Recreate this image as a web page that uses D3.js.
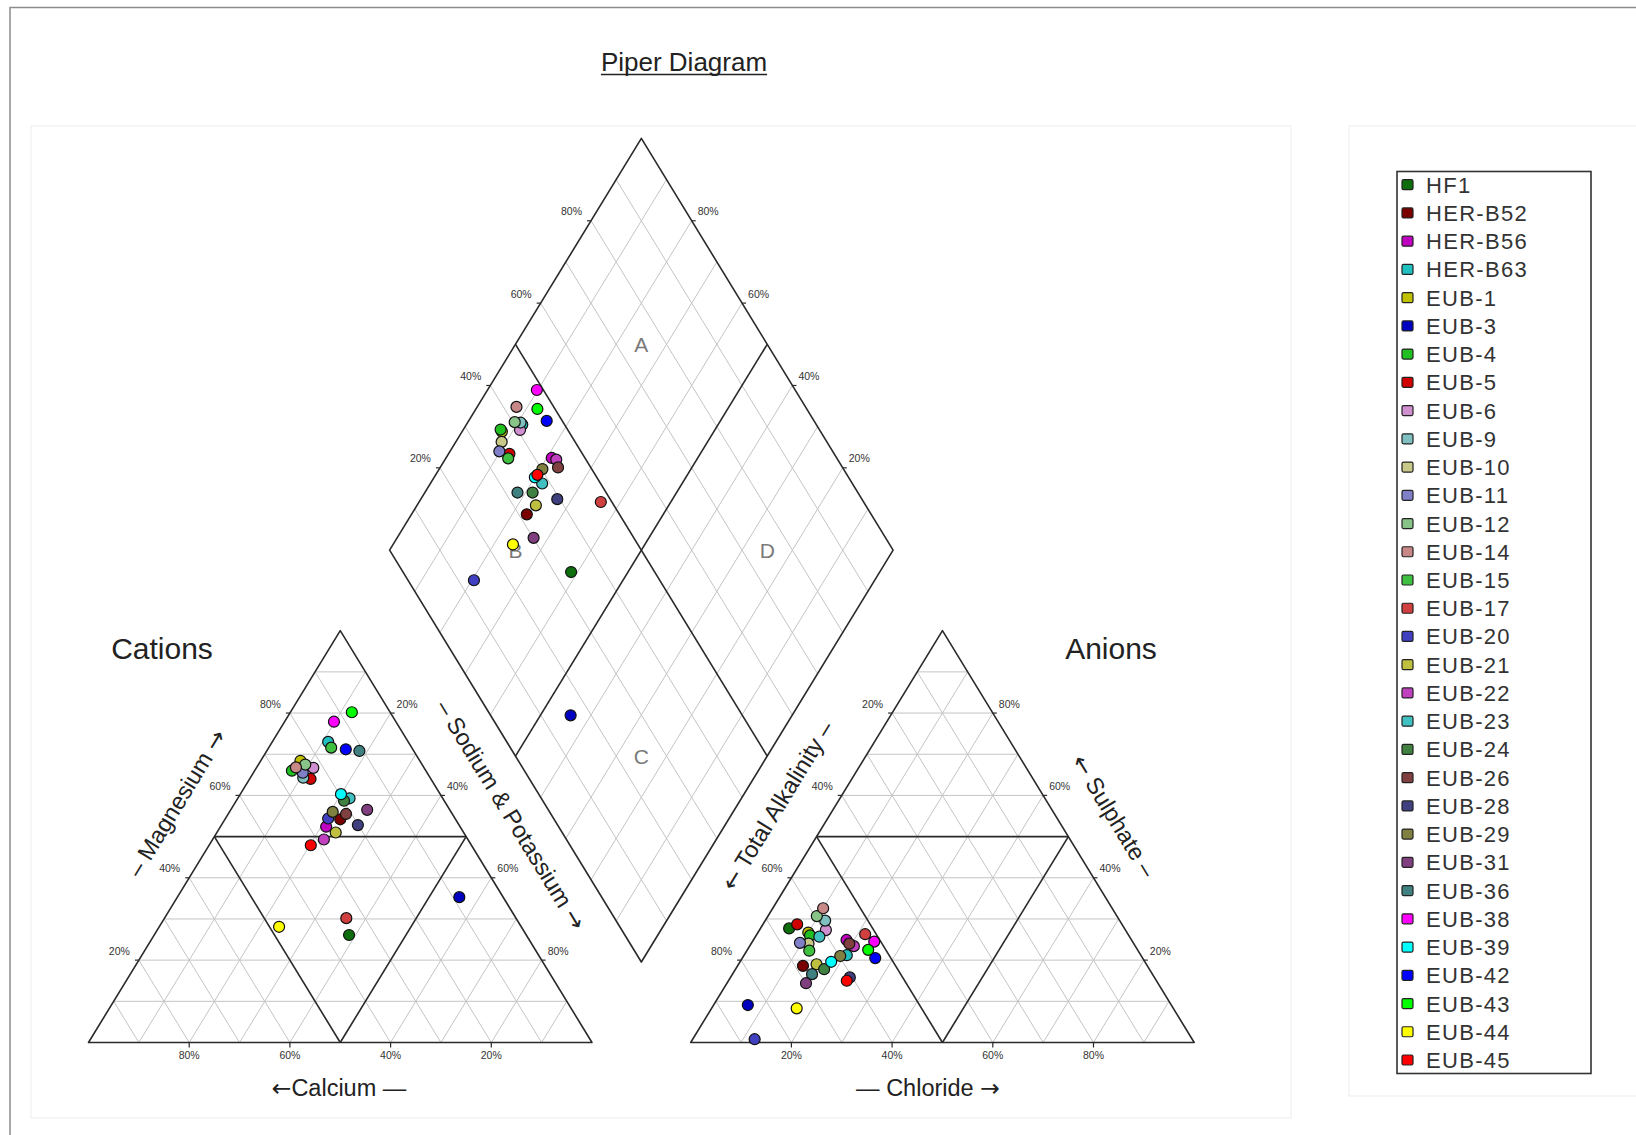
<!DOCTYPE html>
<html>
<head>
<meta charset="utf-8">
<script src="https://cdn.jsdelivr.net/npm/d3@7"></script>
<style>
  html, body { margin: 0; padding: 0; background: #fff; }
  svg { display: block; font-family: "Liberation Sans", Arial, Helvetica, sans-serif; }
</style>
</head>
<body>
<svg id="chart" width="1636" height="1135"></svg>
<script>
// ---- sample data (milliequivalent percentages) ----
const samples = ["HF1", "HER-B52", "HER-B56", "HER-B63", "EUB-1", "EUB-3", "EUB-4", "EUB-5",
  "EUB-6", "EUB-9", "EUB-10", "EUB-11", "EUB-12", "EUB-14", "EUB-15", "EUB-17",
  "EUB-20", "EUB-21", "EUB-22", "EUB-23", "EUB-24", "EUB-26", "EUB-28", "EUB-29",
  "EUB-31", "EUB-36", "EUB-38", "EUB-39", "EUB-42", "EUB-43", "EUB-44", "EUB-45"];

const sampleColors = ["#0e6e0e", "#7a0000", "#c000c0", "#20c0c0", "#c0c000", "#0000c0", "#20c020", "#d00000",
  "#d090d0", "#80c0c0", "#c8c888", "#8080c8", "#88c488", "#c88888", "#40c040", "#d04040",
  "#4040c0", "#c0c040", "#c040c0", "#40c0c0", "#408040", "#804040", "#404080", "#808040",
  "#804080", "#408080", "#ff00ff", "#00ffff", "#0000ff", "#00ff00", "#ffff00", "#ff0000"];

// cations
const calcium = [35.2, 22.9, 26.6, 15.9, 23.7, 8.7, 26.6, 23.9,
  22.0, 25.2, 24.3, 24.7, 23.2, 25.4, 16.0, 33.7,
  25.2, 25.4, 28.6, 18.5, 19.9, 21.1, 20.1, 23.5,
  16.4, 10.8, 12.3, 19.7, 13.3, 7.6, 48.1, 31.9];
const magnesium = [26.1, 54.2, 52.4, 73.0, 68.4, 35.3, 66.0, 64.0,
  66.7, 64.3, 66.6, 65.5, 67.5, 66.8, 71.6, 30.2,
  54.4, 51.0, 49.3, 59.3, 58.7, 55.5, 52.8, 56.0,
  56.5, 70.8, 77.9, 60.3, 71.2, 80.2, 28.1, 47.9];
const sodiumPotassium = [38.7, 22.9, 21.0, 11.1, 7.9, 56.0, 7.4, 12.1,
  11.3, 10.5, 9.1, 9.8, 9.3, 7.8, 12.4, 36.1,
  20.4, 23.6, 22.1, 22.2, 21.4, 23.4, 27.1, 20.5,
  27.1, 18.4, 9.8, 20.0, 15.5, 12.2, 23.8, 20.2];

// anions
const totalAlkalinity = [66.6, 68.4, 56.6, 58.4, 63.3, 84.1, 63.3, 64.5,
  59.5, 58.5, 64.6, 66.2, 59.6, 57.4, 65.3, 52.2,
  86.9, 65.5, 55.9, 61.6, 64.6, 56.5, 60.5, 59.8,
  69.9, 67.6, 51.3, 62.3, 53.1, 53.5, 74.8, 61.5];
const sulphate = [27.7, 18.6, 24.9, 21.2, 26.7, 9.1, 26.0, 28.7,
  27.3, 29.6, 24.0, 24.2, 30.7, 32.6, 22.3, 26.3,
  0.8, 19.0, 23.4, 25.7, 17.8, 24.0, 15.8, 21.0,
  14.4, 16.6, 24.5, 19.6, 20.5, 22.5, 8.3, 15.0];
const chloride = [5.7, 13.0, 18.5, 20.4, 10.0, 6.8, 10.7, 6.8,
  13.2, 11.9, 11.4, 9.6, 9.7, 10.0, 12.4, 21.5,
  12.3, 15.5, 20.7, 12.7, 17.6, 19.5, 23.7, 19.2,
  15.7, 15.8, 24.2, 18.1, 26.4, 24.0, 16.9, 23.5];

const tickPercents = [20, 40, 60, 80];
const regionLabels = ["A", "B", "C", "D"];

// ---- layout ----
const svg = d3.select("#chart");
const side = 503.5, triH = 411.8, baseY = 1042.5;
const catLeft = 88.5, aniLeft = 690.7;
const gap = aniLeft - (catLeft + side);
const dmdCx = catLeft + side + gap / 2;
const dmdBottom = 962;

const catX = d3.scaleLinear().domain([0, 1]).range([catLeft, catLeft + side]);
const aniX = d3.scaleLinear().domain([0, 1]).range([aniLeft, aniLeft + side]);
const triY = d3.scaleLinear().domain([0, 1]).range([baseY, baseY - triH]);
const dmdX = d3.scaleLinear().domain([-1, 1]).range([dmdCx - side / 2, dmdCx + side / 2]);
const dmdY = d3.scaleLinear().domain([0, 2]).range([dmdBottom, dmdBottom - 2 * triH]);

// fractions -> pixel positions
const catPt = (mg, na) => [catX(na + mg / 2), triY(mg)];
const aniPt = (so4, cl) => [aniX(cl + so4 / 2), triY(so4)];
const dmdPt = (na, s) => [dmdX(s - 1 + na), dmdY(s + 1 - na)];

const line = d3.line();

// page frame and faint panel outlines
svg.append("path").attr("d", "M10,1135V7.5H1636")
  .attr("fill", "none").attr("stroke", "#8c8c8c").attr("stroke-width", 1.5);
svg.append("rect").attr("x", 31).attr("y", 126).attr("width", 1260).attr("height", 992)
  .attr("fill", "none").attr("stroke", "#f0f0f0").attr("stroke-width", 1.2);
svg.append("rect").attr("x", 1349).attr("y", 126).attr("width", 300).attr("height", 970)
  .attr("fill", "none").attr("stroke", "#f0f0f0").attr("stroke-width", 1.2);

// title
const title = svg.append("text").attr("x", 684).attr("y", 70.5)
  .attr("text-anchor", "middle").attr("font-size", 26).attr("fill", "#222")
  .text("Piper Diagram");
const tb = title.node().getBBox();
svg.append("line").attr("x1", tb.x).attr("x2", tb.x + tb.width)
  .attr("y1", 74.5).attr("y2", 74.5).attr("stroke", "#222").attr("stroke-width", 1.6);

const grid = svg.append("g").attr("fill", "none").attr("stroke", "#c4c4c4").attr("stroke-width", 1);
const frame = svg.append("g").attr("fill", "none").attr("stroke", "#2a2a2a").attr("stroke-width", 1.6)
  .attr("stroke-linejoin", "round");

const steps = d3.range(1, 10).map(k => k / 10);

// ternary grids
function triangleGrid(pt) {
  steps.forEach(k => {
    grid.append("path").attr("d", line([pt(k, 0), pt(k, 1 - k)]));
    grid.append("path").attr("d", line([pt(0, k), pt(1 - k, k)]));
    grid.append("path").attr("d", line([pt(0, 1 - k), pt(1 - k, 0)]));
  });
  frame.append("path").attr("d", line([pt(0, 0), pt(0, 1), pt(1, 0)]) + "Z");
  frame.append("path").attr("d", line([pt(0.5, 0), pt(0.5, 0.5)]));
  frame.append("path").attr("d", line([pt(0, 0.5), pt(0.5, 0.5)]));
  frame.append("path").attr("d", line([pt(0, 0.5), pt(0.5, 0)]));
}
triangleGrid(catPt);
triangleGrid(aniPt);

// diamond grid
steps.forEach(k => {
  grid.append("path").attr("d", line([dmdPt(0, k), dmdPt(1, k)]));
  grid.append("path").attr("d", line([dmdPt(k, 0), dmdPt(k, 1)]));
});
frame.append("path").attr("d", line([dmdPt(0, 0), dmdPt(0, 1), dmdPt(1, 1), dmdPt(1, 0)]) + "Z");
frame.append("path").attr("d", line([dmdPt(0, 0.5), dmdPt(1, 0.5)]));
frame.append("path").attr("d", line([dmdPt(0.5, 0), dmdPt(0.5, 1)]));

// region letters
const regionPts = [dmdPt(0.25, 0.75), dmdPt(0.25, 0.25), dmdPt(0.75, 0.25), dmdPt(0.75, 0.75)];
svg.append("g").selectAll("text").data(regionLabels).join("text")
  .attr("x", (d, i) => regionPts[i][0]).attr("y", (d, i) => regionPts[i][1])
  .attr("dy", "0.36em").attr("text-anchor", "middle")
  .attr("font-size", 21).attr("fill", "#7a7a7a").text(d => d);

// tick labels
const ticks = svg.append("g").attr("font-size", 10.5).attr("fill", "#333");
const tickMarks = svg.append("g").attr("stroke", "#2a2a2a").attr("stroke-width", 1.2);
function baseTicks(pts) {
  pts.forEach(([p, label]) => {
    tickMarks.append("line").attr("x1", p[0]).attr("x2", p[0]).attr("y1", p[1]).attr("y2", p[1] + 5);
    ticks.append("text").attr("x", p[0]).attr("y", p[1] + 16).attr("text-anchor", "middle").text(label);
  });
}
function leftTicks(pts) {
  pts.forEach(([p, label]) => {
    tickMarks.append("line").attr("x1", p[0]).attr("x2", p[0] - 4).attr("y1", p[1]).attr("y2", p[1]);
    ticks.append("text").attr("x", p[0] - 9).attr("y", p[1] - 5.5).attr("text-anchor", "end").text(label);
  });
}
function rightTicks(pts) {
  pts.forEach(([p, label]) => {
    tickMarks.append("line").attr("x1", p[0]).attr("x2", p[0] + 4).attr("y1", p[1]).attr("y2", p[1]);
    ticks.append("text").attr("x", p[0] + 6).attr("y", p[1] - 5.5).attr("text-anchor", "start").text(label);
  });
}
const pct = v => v + "%";
baseTicks(tickPercents.map(v => [catPt(0, 1 - v / 100), pct(v)]));
leftTicks(tickPercents.map(v => [catPt(v / 100, 0), pct(v)]));
rightTicks(tickPercents.map(v => [catPt(1 - v / 100, v / 100), pct(v)]));
baseTicks(tickPercents.map(v => [aniPt(0, v / 100), pct(v)]));
leftTicks(tickPercents.map(v => [aniPt(1 - v / 100, 0), pct(v)]));
rightTicks(tickPercents.map(v => [aniPt(v / 100, 1 - v / 100), pct(v)]));
leftTicks(tickPercents.map(v => [dmdPt(0, v / 100), pct(v)]));
rightTicks(tickPercents.map(v => [dmdPt(1 - v / 100, 1), pct(v)]));

// panel titles
svg.append("text").attr("x", 162).attr("y", 659).attr("text-anchor", "middle")
  .attr("font-size", 30).attr("fill", "#222").text("Cations");
svg.append("text").attr("x", 1111).attr("y", 659).attr("text-anchor", "middle")
  .attr("font-size", 30).attr("fill", "#222").text("Anions");

// axis names: arrows use a font with full-size arrow glyphs
const axisFont = 23.5;
function axisText(sel, parts) {
  parts.forEach(p => {
    const isArrow = p === "\u2190" || p === "\u2192";
    sel.append("tspan").attr("font-family", isArrow ? "DejaVu Sans" : null).text(p);
  });
  return sel;
}
axisText(svg.append("text").attr("x", 339).attr("y", 1088).attr("dy", "0.36em").attr("text-anchor", "middle")
  .attr("font-size", axisFont).attr("fill", "#222"), ["\u2190", "Calcium \u2014"]);
axisText(svg.append("text").attr("x", 928).attr("y", 1088).attr("dy", "0.36em").attr("text-anchor", "middle")
  .attr("font-size", axisFont).attr("fill", "#222"), ["\u2014 Chloride ", "\u2192"]);

const edgeAngle = Math.atan2(triH, side / 2) * 180 / Math.PI;
function edgeLabel(a, b, outward, along, parts, angle) {
  const len = Math.hypot(b[0] - a[0], b[1] - a[1]);
  const ux = (b[0] - a[0]) / len, uy = (b[1] - a[1]) / len;
  const mx = (a[0] + b[0]) / 2 + ux * along, my = (a[1] + b[1]) / 2 + uy * along;
  const x = mx + outward[0] * 50, y = my + outward[1] * 50;
  axisText(svg.append("text").attr("transform", `translate(${x},${y}) rotate(${angle})`)
    .attr("dy", "0.36em").attr("text-anchor", "middle")
    .attr("font-size", axisFont).attr("fill", "#222"), parts);
}
const nl = [-Math.sin(edgeAngle * Math.PI / 180), -Math.cos(edgeAngle * Math.PI / 180)];
const nr = [Math.sin(edgeAngle * Math.PI / 180), -Math.cos(edgeAngle * Math.PI / 180)];
edgeLabel(catPt(0, 0), catPt(1, 0), nl, 9, ["\u2013 Magnesium ", "\u2192"], -edgeAngle);
edgeLabel(catPt(1, 0), catPt(0, 1), nr, 5, ["\u2013 Sodium & Potassium ", "\u2192"], edgeAngle);
edgeLabel(aniPt(0, 0), aniPt(1, 0), nl, 6, ["\u2190", " Total Alkalinity \u2013"], -edgeAngle);
edgeLabel(aniPt(1, 0), aniPt(0, 1), nr, 6, ["\u2190", " Sulphate \u2013"], edgeAngle);

// sample markers
const idx = d3.range(samples.length);
const marks = svg.append("g").attr("stroke", "#111").attr("stroke-width", 1.2);
const markR = 5.5;
function drawPoints(posFn) {
  marks.append("g").selectAll("circle").data(idx).join("circle")
    .attr("cx", i => posFn(i)[0]).attr("cy", i => posFn(i)[1])
    .attr("r", markR).attr("fill", i => sampleColors[i]);
}
drawPoints(i => catPt(magnesium[i] / 100, sodiumPotassium[i] / 100));
drawPoints(i => aniPt(sulphate[i] / 100, chloride[i] / 100));
drawPoints(i => dmdPt(sodiumPotassium[i] / 100, (sulphate[i] + chloride[i]) / 100));

// legend
const legend = svg.append("g");
legend.append("rect").attr("x", 1397).attr("y", 171.5).attr("width", 194).attr("height", 902)
  .attr("fill", "#fff").attr("stroke", "#333").attr("stroke-width", 1.6);
const legendY = d3.scaleLinear().domain([0, samples.length - 1]).range([184.7, 1060]);
const rows = legend.selectAll("g.row").data(idx).join("g").attr("class", "row")
  .attr("transform", i => `translate(0,${legendY(i)})`);
rows.append("rect").attr("x", 1402).attr("y", -5).attr("width", 11).attr("height", 10).attr("rx", 1.5)
  .attr("fill", i => sampleColors[i]).attr("stroke", "#222").attr("stroke-width", 1.2);
rows.append("text").attr("x", 1426).attr("y", 8).attr("font-size", 22)
  .attr("letter-spacing", "1.3px").attr("fill", "#333").text(i => samples[i]);
</script>
</body>
</html>
